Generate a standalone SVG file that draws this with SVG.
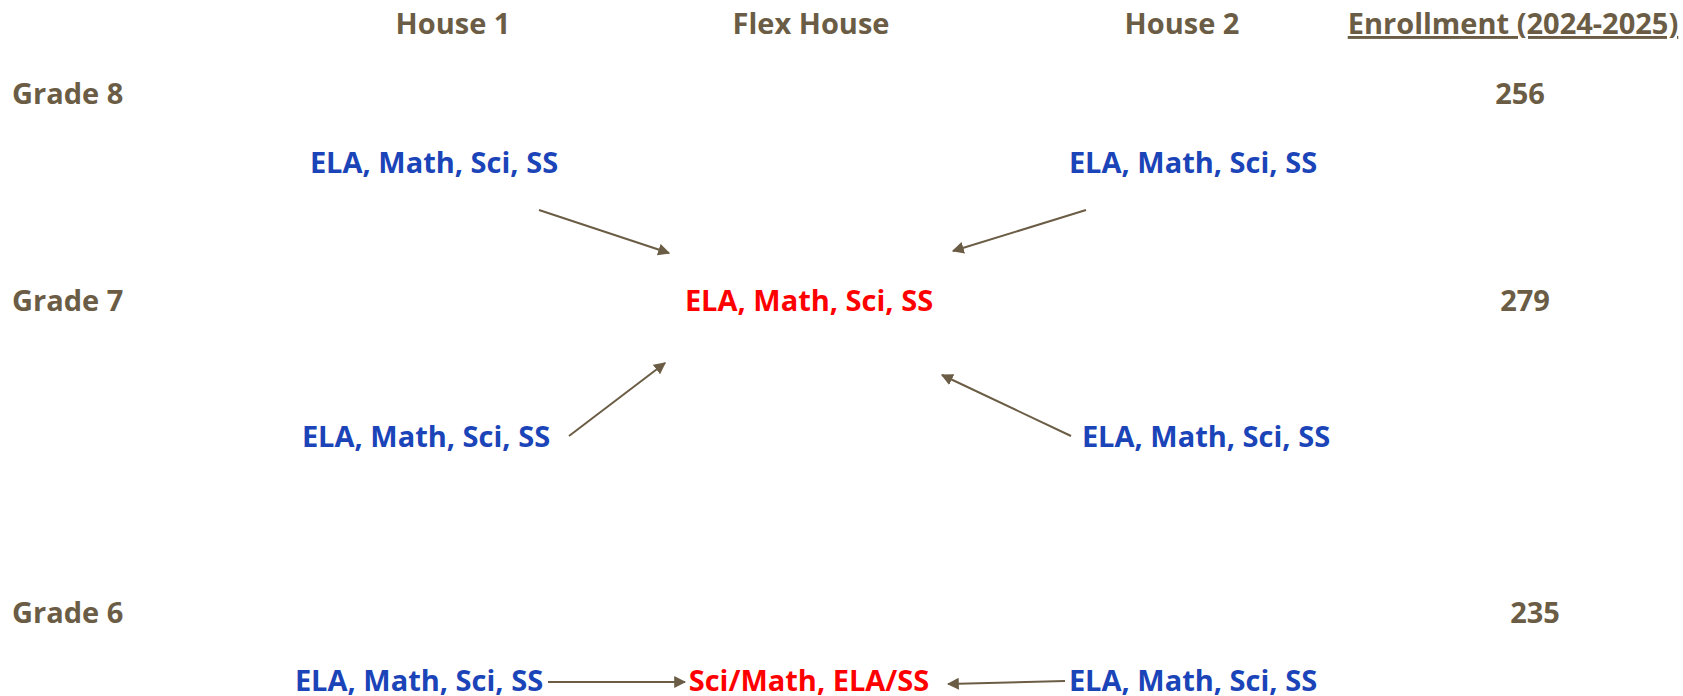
<svg xmlns="http://www.w3.org/2000/svg" width="1683" height="696" viewBox="0 0 1683 696">
<defs>
<style>
text{font-family:"Open Sans","Liberation Sans",sans-serif;font-weight:700;font-size:29px}
.h{fill:#6b5d45;text-anchor:middle}
.g{fill:#6b5d45}
.b{fill:#1a44b8;text-anchor:middle}
.r{fill:#ff0000;text-anchor:middle}
.c{stroke:#6b5d45;stroke-width:2;fill:none;marker-end:url(#ah)}
</style>
<marker id="ah" viewBox="0 0 10 10" refX="9" refY="5" markerWidth="6" markerHeight="6" markerUnits="strokeWidth" orient="auto">
<path d="M0,0 L10,5 L0,10 z" fill="#6b5d45"/>
</marker>
</defs>
<rect width="1683" height="696" fill="#ffffff"/>
<g id="headers">
<text class="h" x="453" y="34">House 1</text>
<text class="h" x="811" y="34">Flex House</text>
<text class="h" x="1182" y="34">House 2</text>
<text class="h" x="1513" y="34" text-decoration="underline">Enrollment (2024-2025)</text>
</g>
<g id="grades">
<text class="g" x="12" y="104">Grade 8</text>
<text class="g" x="12" y="311">Grade 7</text>
<text class="g" x="12" y="623">Grade 6</text>
</g>
<g id="enrollment">
<text class="h" x="1520" y="104">256</text>
<text class="h" x="1525" y="311">279</text>
<text class="h" x="1535" y="623">235</text>
</g>
<g id="g8-house1"><text class="b" x="434" y="173">ELA, Math, Sci, SS</text></g>
<g id="g8-house2"><text class="b" x="1193" y="173">ELA, Math, Sci, SS</text></g>
<g id="g7-flex"><text class="r" x="809" y="311">ELA, Math, Sci, SS</text></g>
<g id="g7-house1"><text class="b" x="426" y="447">ELA, Math, Sci, SS</text></g>
<g id="g7-house2"><text class="b" x="1206" y="447">ELA, Math, Sci, SS</text></g>
<g id="g6-house1"><text class="b" x="419" y="691">ELA, Math, Sci, SS</text></g>
<g id="g6-flex"><text class="r" x="809" y="691">Sci/Math, ELA/SS</text></g>
<g id="g6-house2"><text class="b" x="1193" y="691">ELA, Math, Sci, SS</text></g>
<g id="connectors">
<line class="c" x1="539" y1="210" x2="669" y2="253"/>
<line class="c" x1="1086" y1="210" x2="953" y2="251"/>
<line class="c" x1="569" y1="436" x2="665" y2="363"/>
<line class="c" x1="1071" y1="436" x2="942" y2="375"/>
<line class="c" x1="548" y1="682" x2="685" y2="682"/>
<line class="c" x1="1065" y1="681" x2="948" y2="684"/>
</g>
</svg>
